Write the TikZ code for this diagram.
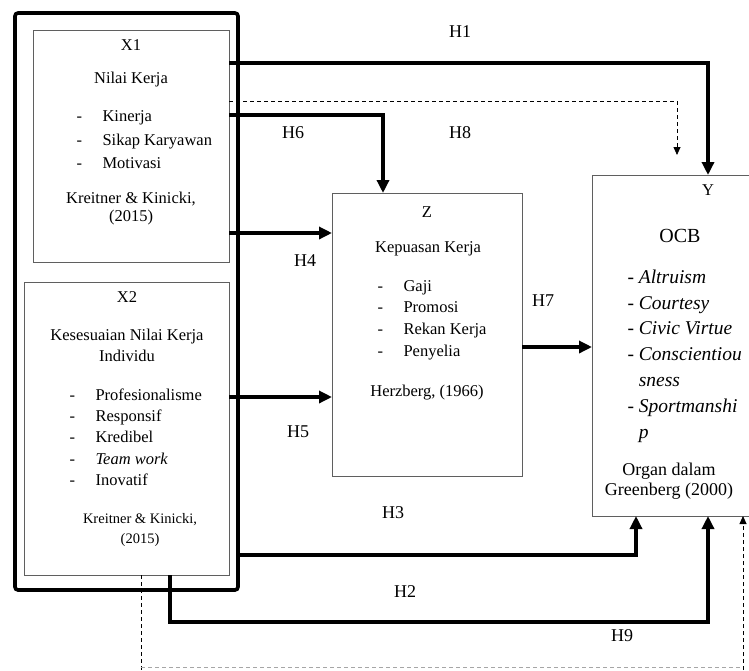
\documentclass[tikz,border=0pt]{standalone}
\usepackage{fontspec}
\setmainfont{Liberation Serif}
\usetikzlibrary{arrows.meta}
\definecolor{boxgray}{RGB}{95,95,95}
\tikzset{box/.style={draw=boxgray,line width=0.9pt,inner sep=0pt,outer sep=0pt,anchor=north west},
         conn/.style={line width=3.6pt,-{Triangle[length=13pt,width=12pt]}},
         dconn/.style={line width=0.8pt,dash pattern=on 4pt off 3pt,-{Triangle[length=8pt,width=7pt]}},
         lbl/.style={font=\fontsize{18}{20}\selectfont},
         txt/.style={font=\fontsize{16.5}{23.5}\selectfont,align=center},
         lst/.style={font=\fontsize{16.5}{23.5}\selectfont,align=left,anchor=west}}
\newcommand{\itm}[1]{\makebox[26pt][l]{-}#1}

\begin{document}
\begin{tikzpicture}[x=1pt,y=-1pt]
    \useasboundingbox (0,0) rectangle (749,670);
    % boxes
    \node[box,minimum width=196pt,minimum height=232pt] (x1) at (33,30) {};
    \node[box,minimum width=205pt,minimum height=293pt] (x2) at (24,282) {};
    \node[box,line width=3.6pt,draw=black,rounded corners=3pt,minimum width=223pt,minimum height=577pt] (outer) at (15,13) {};
    \node[box,minimum width=190pt,minimum height=283pt] (zb) at (332,193) {};
    \node[box,minimum width=175pt,minimum height=341pt] (yb) at (592,175) {};
    % X1
    \node[txt] (x1a) at (131,45) {X1};
    \node[txt] (x1b) at (131,80) {Nilai Kerja};
    \node[lst] (x1c) at (73,140) {\itm{Kinerja}\\ \itm{Sikap Karyawan}\\ \itm{Motivasi}};
    \node[txt,font=\fontsize{16.5}{18}\selectfont] (x1d) at (131,209) {Kreitner \& Kinicki,\\(2015)};
    % X2
    \node[txt] (x2a) at (127,297) {X2};
    \node[txt,font=\fontsize{16.5}{21}\selectfont] (x2b) at (127,345) {Kesesuaian Nilai Kerja\\Individu};
    \node[lst,font=\fontsize{16.5}{21.3}\selectfont] (x2c) at (66,437) {\itm{Profesionalisme}\\ \itm{Responsif}\\ \itm{Kredibel}\\ \itm{\textit{Team work}}\\ \itm{Inovatif}};
    \node[txt,font=\fontsize{14.5}{20}\selectfont] (x2d) at (140,530) {Kreitner \& Kinicki,\\(2015)};
    % Z
    \node[txt] (za) at (427,212) {Z};
    \node[txt] (zc) at (428,249) {Kepuasan Kerja};
    \node[lst,font=\fontsize{16.5}{21.7}\selectfont] (zd) at (374,320) {\itm{Gaji}\\ \itm{Promosi}\\ \itm{Rekan Kerja}\\ \itm{Penyelia}};
    \node[txt] (ze) at (427,393) {Herzberg, (1966)};
    % Y
    \node[txt] (ya) at (708,190) {Y};
    \node[txt,font=\fontsize{20}{22}\selectfont] (yc) at (680,236) {OCB};
    \node[lst,font=\fontsize{19.5}{25.8}\selectfont] (yd) at (624,356) {- \textit{Altruism}\\ - \textit{Courtesy}\\ - \textit{Civic Virtue}\\ - \textit{Conscientiou}\\ \phantom{- }\textit{sness}\\ - \textit{Sportmanshi}\\ \phantom{- }\textit{p}};
    \node[txt,font=\fontsize{18}{19.5}\selectfont] (ye) at (669,481) {Organ dalam\\Greenberg (2000)};
    % connectors
    \draw[conn] (x1.east |- 0,63) -| (yb.north -| 708,0);
    \coordinate (h8e) at (677,155);
    \draw[dconn] (x1.east |- 0,101) -| (h8e);
    \draw[conn] (x1.east |- 0,115) -| (zb.north -| 383,0);
    \draw[conn] (x1.east |- 0,233) -- (zb.west |- 0,233);
    \draw[conn] (x2.east |- 0,397) -- (zb.west |- 0,397);
    \draw[conn] (zb.east |- 0,347) -- (yb.west |- 0,347);
    \draw[conn] (outer.east |- 0,555) -| (yb.south -| 636,0);
    \draw[conn] (x2.south -| 170,0) -- (170,622) -| (yb.south -| 708,0);
    \draw[dconn,-] (x2.south -| 141,0) -- (141,670);
    \draw[dconn,-,black!35] (141,667) -- (743,667);
    \draw[dconn] (743,670) -- (yb.south -| 743,0);
    % labels
    \node[lbl] (h1) at (460,32) {H1};
    \node[lbl] (h6) at (293,133) {H6};
    \node[lbl] (h8) at (460,133) {H8};
    \node[lbl] (h4) at (305,261) {H4};
    \node[lbl] (h5) at (298,432) {H5};
    \node[lbl] (h7) at (543,301) {H7};
    \node[lbl] (h3) at (393,513) {H3};
    \node[lbl] (h2) at (405,592) {H2};
    \node[lbl] (h9) at (622,636) {H9};
\end{tikzpicture}
\end{document}
